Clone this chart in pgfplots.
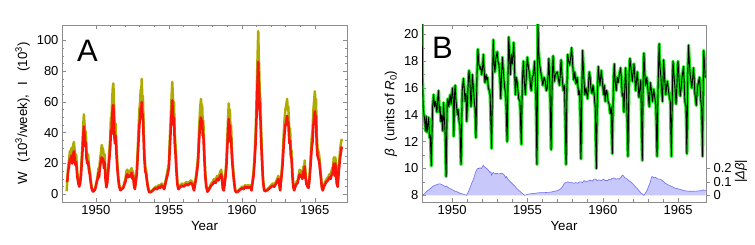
\documentclass[border=0pt]{standalone}
\usepackage{fontspec}
\setmainfont{Liberation Sans}
\usepackage{pgfplots}
\pgfplotsset{compat=1.18}
\usepackage{pgfplotstable}
\definecolor{olivew}{RGB}{175,170,0}
\definecolor{redi}{RGB}{250,20,10}
\definecolor{greenb}{RGB}{20,230,20}
\definecolor{purfill}{RGB}{200,200,250}
\definecolor{purline}{RGB}{110,110,240}
\definecolor{framec}{RGB}{140,140,140}

\pgfplotstableread{
t W I
1948.00 2 8
1948.05 10 9
1948.10 18 15
1948.16 22 18
1948.22 28 23
1948.27 26 21
1948.32 30 25
1948.38 25 20
1948.44 32 26
1948.50 34 28
1948.55 28 23
1948.60 23 19
1948.65 26 21
1948.72 15 12
1948.80 8 7
1948.86 6 5
1948.92 9 7
1948.98 15 12
1949.03 24 20
1949.08 33 27
1949.13 44 37
1949.18 52 44
1949.22 46 39
1949.27 38 31
1949.31 41 34
1949.36 28 23
1949.42 24 20
1949.47 26 21
1949.52 19 16
1949.58 16 13
1949.65 9 7.5
1949.72 4 3.5
1949.80 2 1.8
1949.88 2.5 2.2
1949.96 4 3.5
1950.04 8 7
1950.12 12 10
1950.18 17 14
1950.22 14 11
1950.27 21 17
1950.32 25 20
1950.36 28 22
1950.40 32 24
1950.45 30 23
1950.50 29 23
1950.55 22 17
1950.60 26 21
1950.66 12 10
1950.72 5 4.5
1950.78 9 7.5
1950.85 18 15
1950.92 28 23
1950.98 36 30
1951.03 50 41
1951.07 48 39
1951.11 60 49
1951.15 68 56
1951.19 72 58
1951.23 65 53
1951.27 45 37
1951.31 40 33
1951.35 46 38
1951.40 34 28
1951.46 22 18
1951.53 12 10
1951.60 6 5
1951.68 3 2.6
1951.78 4 3.4
1951.88 5 4.2
1951.96 8 6.6
1952.03 10 8.2
1952.09 15 12
1952.15 16 13
1952.21 13 11
1952.27 15 12
1952.33 14 11.5
1952.39 16 13
1952.45 17 14
1952.50 12 10
1952.55 15 12
1952.62 6 5
1952.67 4 3.4
1952.73 9 7.5
1952.80 16 13
1952.87 30 25
1952.93 44 36
1952.99 56 46
1953.03 60 49
1953.07 68 56
1953.11 66 54
1953.14 75 60
1953.18 62 51
1953.22 64 52
1953.26 48 39
1953.31 30 25
1953.38 18 15
1953.44 16 13
1953.50 10 8.2
1953.57 5 4.2
1953.64 2 1.7
1953.72 1.5 1.2
1953.80 2 1.7
1953.90 3 2.5
1954.00 4 3.3
1954.10 5 4.1
1954.20 4 3.3
1954.30 6 4.9
1954.40 5 4.1
1954.50 7 5.7
1954.60 6 4.9
1954.68 4 3.3
1954.76 8 6.6
1954.84 12 10
1954.92 16 13
1955.00 20 17
1955.06 35 29
1955.12 48 40
1955.18 62 52
1955.23 73 61
1955.27 65 54
1955.31 55 45
1955.35 60 50
1955.40 40 33
1955.45 33 27
1955.51 20 16
1955.58 8 6.6
1955.65 4 3.3
1955.72 5 4.1
1955.80 6 4.9
1955.90 7 5.7
1956.00 6 4.9
1956.10 7 5.7
1956.20 8 6.6
1956.30 7 5.7
1956.40 8 6.6
1956.50 9 7.4
1956.60 8 6.6
1956.67 5 4.1
1956.72 3 2.5
1956.78 7 5.7
1956.86 12 10
1956.93 18 15
1957.00 25 21
1957.06 40 33
1957.12 52 43
1957.16 58 48
1957.20 62 50
1957.24 56 46
1957.28 58 48
1957.32 46 38
1957.36 48 39
1957.42 30 25
1957.49 15 12
1957.56 6 4.9
1957.64 2 1.7
1957.72 3 2.5
1957.80 5 4.1
1957.90 7 5.7
1958.00 8 6.6
1958.10 10 8.2
1958.20 9 7.4
1958.30 12 10
1958.40 11 9
1958.50 14 11.5
1958.58 16 13
1958.64 12 10
1958.70 4 3.3
1958.76 3 2.5
1958.82 8 6.6
1958.88 14 11.5
1958.94 22 18
1959.00 36 30
1959.05 48 40
1959.10 59 49
1959.14 52 43
1959.18 55 45
1959.22 42 34
1959.26 45 37
1959.31 30 25
1959.38 20 16
1959.46 10 8.2
1959.54 3 2.5
1959.62 1.5 1.2
1959.72 2 1.7
1959.82 3 2.5
1959.92 4 3.3
1960.02 5 4.1
1960.12 4 3.3
1960.22 6 4.9
1960.32 5 4.1
1960.42 6 4.9
1960.52 5 4.1
1960.60 6 4.9
1960.66 3 2.5
1960.72 8 6.6
1960.80 15 12
1960.87 25 21
1960.94 40 33
1961.00 60 49
1961.05 80 66
1961.09 95 78
1961.12 106 86
1961.15 92 75
1961.19 80 66
1961.23 63 52
1961.27 62 50
1961.31 45 37
1961.37 28 23
1961.45 10 8.2
1961.53 3 2.5
1961.62 2.5 2
1961.72 3 2.5
1961.82 4 3.3
1961.92 5 4.1
1962.02 6 4.9
1962.12 7 5.7
1962.22 6 4.9
1962.32 8 6.6
1962.42 10 8.2
1962.50 12 10
1962.56 8 6.6
1962.62 3 2.5
1962.70 12 10
1962.78 22 18
1962.86 38 31
1962.92 48 39
1962.98 55 45
1963.04 58 47
1963.10 62 51
1963.14 55 45
1963.18 57 47
1963.22 47 39
1963.26 40 33
1963.30 43 35
1963.35 30 25
1963.40 28 23
1963.46 15 12
1963.52 6 4.9
1963.58 3 2.5
1963.66 6 4.9
1963.74 8 6.6
1963.82 9 7.4
1963.90 13 11
1963.96 16 13
1964.02 14 11.5
1964.08 15 12
1964.14 12 10
1964.20 18 15
1964.25 13 11
1964.30 22 18
1964.35 15 12
1964.42 8 6.6
1964.50 6 4.9
1964.56 5 4.1
1964.62 10 8.2
1964.70 22 18
1964.78 36 30
1964.84 42 34
1964.90 55 45
1964.96 62 51
1965.00 67 54
1965.04 58 48
1965.08 62 51
1965.12 40 33
1965.18 30 25
1965.24 28 23
1965.30 25 21
1965.36 18 15
1965.42 12 10
1965.48 5 4.1
1965.54 3 2.5
1965.62 6 4.9
1965.70 8 6.6
1965.80 10 8.2
1965.90 11 9
1966.00 13 11
1966.08 12 10
1966.16 16 13
1966.24 18 15
1966.30 24 20
1966.36 15 12
1966.40 24 20
1966.44 20 16
1966.50 8 6.6
1966.56 6 4.9
1966.64 18 15
1966.72 28 23
1966.78 33 27
1966.84 36 31
}\tabA

\pgfplotstableread{
t b
1948.00 23
1948.03 17
1948.08 14.5
1948.13 14.0
1948.18 13.6
1948.23 12.8
1948.28 13.9
1948.33 12.7
1948.38 13.2
1948.44 13.8
1948.50 12.3
1948.55 12.5
1948.62 10.2
1948.70 14.5
1948.77 15.5
1948.83 14.6
1948.90 15.0
1948.99 14.2
1949.04 15.2
1949.10 15.8
1949.15 14.2
1949.20 14.6
1949.25 13.5
1949.31 14.0
1949.38 12.8
1949.43 14.9
1949.49 13.6
1949.54 12.5
1949.60 9.4
1949.67 14.8
1949.72 15.2
1949.78 14.6
1949.87 15.5
1949.93 14.8
1950.02 16.0
1950.07 15.2
1950.11 12.4
1950.16 15.5
1950.20 16.2
1950.26 15.0
1950.35 14.0
1950.40 14.4
1950.46 13.5
1950.52 13.2
1950.59 10.3
1950.67 15.8
1950.75 16.7
1950.80 16.0
1950.86 15.0
1950.92 15.6
1950.97 13.5
1951.05 16.0
1951.12 17.3
1951.18 16.5
1951.25 14.6
1951.30 15.5
1951.34 17.0
1951.40 16.2
1951.47 15.0
1951.52 14.5
1951.58 12.3
1951.65 17.0
1951.71 18.9
1951.77 17.8
1951.85 17.4
1951.90 17.6
1951.96 17.0
1952.02 17.5
1952.07 18.5
1952.13 17.2
1952.18 16.4
1952.25 17.0
1952.30 16.6
1952.35 16.8
1952.40 16.0
1952.44 15.9
1952.52 15.5
1952.62 11.5
1952.68 16.5
1952.73 19.6
1952.78 18.0
1952.84 17.2
1952.90 18.2
1952.99 18.7
1953.04 18.0
1953.10 17.8
1953.16 17.0
1953.23 15.2
1953.28 17.0
1953.34 18.3
1953.40 17.2
1953.49 16.0
1953.56 15.5
1953.65 12.0
1953.71 17.0
1953.76 19.8
1953.82 18.2
1953.87 17.0
1953.93 18.5
1953.99 17.8
1954.04 18.5
1954.09 19.4
1954.14 17.5
1954.20 15.5
1954.26 16.8
1954.31 16.5
1954.37 15.8
1954.42 15.2
1954.50 15.0
1954.59 11.8
1954.66 16.5
1954.73 18.0
1954.79 16.5
1954.86 15.5
1954.92 16.8
1954.99 18.3
1955.06 17.6
1955.14 17.0
1955.20 16.2
1955.25 15.8
1955.32 16.8
1955.40 17.0
1955.47 18.0
1955.55 16.0
1955.63 10.3
1955.69 21.0
1955.74 18.8
1955.80 17.8
1955.86 17.4
1955.91 17.0
1955.97 16.6
1956.02 16.2
1956.10 16.8
1956.18 16.5
1956.25 15.8
1956.31 16.0
1956.37 17.0
1956.42 18.2
1956.49 16.0
1956.57 11.4
1956.64 16.5
1956.70 18.4
1956.75 17.2
1956.79 16.5
1956.86 17.0
1956.97 17.2
1957.04 16.8
1957.12 16.2
1957.18 17.0
1957.23 18.1
1957.30 16.8
1957.38 15.8
1957.46 16.2
1957.56 10.3
1957.62 16.0
1957.67 18.5
1957.73 18.0
1957.80 17.7
1957.86 18.2
1957.93 19.0
1958.00 17.8
1958.07 16.6
1958.14 17.2
1958.22 16.3
1958.30 16.8
1958.40 15.5
1958.47 15.8
1958.55 10.7
1958.61 16.0
1958.66 18.8
1958.72 17.2
1958.81 15.5
1958.88 16.0
1958.99 15.2
1959.05 16.2
1959.10 17.2
1959.16 16.8
1959.21 16.0
1959.28 15.6
1959.35 16.2
1959.43 15.5
1959.50 14.5
1959.57 10.0
1959.63 15.0
1959.70 17.6
1959.76 16.8
1959.81 16.2
1959.90 17.3
1959.97 16.5
1960.05 15.5
1960.11 16.2
1960.16 15.0
1960.22 15.8
1960.27 15.8
1960.35 15.0
1960.42 14.8
1960.49 14.1
1960.56 14.6
1960.63 11.1
1960.70 16.0
1960.76 17.8
1960.82 16.5
1960.89 15.8
1960.96 16.8
1961.02 16.4
1961.10 17.0
1961.18 17.5
1961.24 16.6
1961.29 15.4
1961.35 15.6
1961.40 14.2
1961.46 16.0
1961.51 17.5
1961.58 15.5
1961.67 10.9
1961.74 16.8
1961.80 18.2
1961.87 17.5
1961.96 16.5
1962.02 17.2
1962.07 17.8
1962.13 16.8
1962.18 15.8
1962.24 16.6
1962.29 17.2
1962.35 16.2
1962.40 15.3
1962.46 16.0
1962.52 16.6
1962.62 10.6
1962.68 16.5
1962.73 18.6
1962.79 17.0
1962.84 16.2
1962.92 16.8
1962.99 15.9
1963.08 14.6
1963.16 16.4
1963.23 15.8
1963.30 15.0
1963.38 15.9
1963.46 15.2
1963.52 14.8
1963.60 10.9
1963.67 16.2
1963.74 19.3
1963.80 17.5
1963.86 16.8
1963.92 15.6
1963.96 15.0
1964.04 18.1
1964.10 16.8
1964.18 15.5
1964.24 16.2
1964.29 16.5
1964.36 15.8
1964.42 15.3
1964.48 15.0
1964.55 10.9
1964.62 16.0
1964.66 18.0
1964.72 17.0
1964.77 16.3
1964.82 15.5
1964.86 14.8
1964.93 16.5
1964.99 18.0
1965.07 16.5
1965.14 15.4
1965.20 16.0
1965.25 16.7
1965.31 17.2
1965.36 17.6
1965.41 16.2
1965.45 15.0
1965.52 14.6
1965.58 11.1
1965.64 17.0
1965.69 19.2
1965.75 17.8
1965.80 17.0
1965.86 16.5
1965.91 16.0
1965.97 16.8
1966.02 17.5
1966.07 16.6
1966.11 15.6
1966.16 15.2
1966.20 14.7
1966.25 15.5
1966.29 16.1
1966.36 16.5
1966.42 16.8
1966.47 15.8
1966.51 15.0
1966.56 14.5
1966.62 10.9
1966.67 16.5
1966.70 18.8
1966.75 17.8
1966.79 16.8
1966.83 16.9
}\tabB

\pgfplotstableread{
t d
1948.00 0.0
1948.10 0.005
1948.20 0.015
1948.32 0.03
1948.44 0.04
1948.55 0.05
1948.66 0.06
1948.77 0.07
1948.88 0.075
1948.99 0.08
1949.10 0.085
1949.21 0.085
1949.30 0.08
1949.40 0.075
1949.54 0.065
1949.62 0.07
1949.70 0.06
1949.87 0.05
1950.03 0.04
1950.20 0.03
1950.36 0.025
1950.53 0.015
1950.70 0.01
1950.86 0.003
1950.95 0.0
1951.05 0.02
1951.20 0.06
1951.30 0.09
1951.45 0.13
1951.55 0.17
1951.63 0.19
1951.70 0.20
1951.78 0.20
1951.85 0.205
1951.93 0.20
1952.00 0.21
1952.07 0.225
1952.12 0.215
1952.18 0.21
1952.24 0.205
1952.29 0.20
1952.35 0.195
1952.42 0.185
1952.51 0.17
1952.57 0.175
1952.62 0.15
1952.68 0.165
1952.73 0.17
1952.80 0.165
1952.90 0.16
1953.00 0.165
1953.05 0.16
1953.15 0.16
1953.25 0.165
1953.38 0.16
1953.47 0.15
1953.54 0.13
1953.60 0.14
1953.70 0.12
1953.82 0.105
1953.92 0.095
1954.05 0.08
1954.15 0.07
1954.26 0.055
1954.40 0.04
1954.59 0.02
1954.72 0.008
1954.81 0.0
1954.95 0.005
1955.10 0.01
1955.30 0.012
1955.50 0.015
1955.70 0.018
1955.91 0.02
1956.10 0.02
1956.40 0.022
1956.60 0.025
1956.79 0.03
1957.00 0.035
1957.23 0.05
1957.35 0.07
1957.45 0.09
1957.55 0.095
1957.67 0.10
1957.80 0.095
1957.95 0.095
1958.10 0.09
1958.20 0.095
1958.33 0.09
1958.45 0.10
1958.55 0.10
1958.65 0.095
1958.75 0.11
1958.85 0.10
1959.00 0.105
1959.10 0.11
1959.21 0.11
1959.30 0.105
1959.42 0.12
1959.54 0.12
1959.62 0.11
1959.75 0.115
1959.90 0.11
1960.05 0.12
1960.15 0.11
1960.31 0.11
1960.42 0.12
1960.52 0.115
1960.60 0.125
1960.75 0.13
1960.88 0.12
1961.00 0.125
1961.08 0.12
1961.18 0.13
1961.30 0.15
1961.38 0.145
1961.45 0.13
1961.52 0.13
1961.62 0.12
1961.72 0.11
1961.85 0.10
1962.00 0.085
1962.15 0.065
1962.29 0.05
1962.40 0.035
1962.51 0.02
1962.62 0.01
1962.73 0.0
1962.85 0.02
1962.95 0.04
1963.05 0.07
1963.16 0.10
1963.22 0.13
1963.27 0.14
1963.35 0.135
1963.42 0.13
1963.49 0.135
1963.60 0.125
1963.70 0.12
1963.82 0.12
1963.95 0.11
1964.05 0.10
1964.15 0.09
1964.30 0.08
1964.48 0.07
1964.60 0.065
1964.75 0.055
1964.92 0.05
1965.10 0.045
1965.25 0.04
1965.36 0.035
1965.55 0.032
1965.75 0.03
1966.02 0.03
1966.30 0.032
1966.57 0.035
1966.68 0.04
1966.75 0.038
1966.83 0.035
}\tabD

\pgfplotsset{
 mystyle/.style={
  scale only axis, height=177pt,
  clip mode=individual,
  axis line style={framec, line width=0.6pt},
  tick style={framec, line width=0.5pt},
  major tick length=4pt, minor tick length=2.5pt,
  tick align=inside,
  ticklabel style={font=\fontsize{13}{15}\selectfont, black},
  /pgf/number format/assume math mode=true,
  /pgf/number format/1000 sep={},
  label style={font=\fontsize{13.3}{15}\selectfont},
  xlabel={Year},
  xtick={1950,1955,1960,1965},
  minor x tick num=4,
 }
}

\begin{document}
\begin{tikzpicture}
\useasboundingbox (0pt,0pt) rectangle (755pt,245pt);
% Panel A
\begin{axis}[mystyle, at={(62pt,43pt)}, anchor=south west, width=285pt,
  xmin=1947.68, xmax=1967.2, ymin=-5, ymax=110,
  ytick={0,20,40,60,80,100}, minor y tick num=3,
  ylabel={W\ \ \,(10\textsuperscript{3}/week),\ \ \,I\ \ \,(10\textsuperscript{3})}]
\addplot[olivew, line width=2.5pt, line join=round] table[x=t,y=W] {\tabA};
\addplot[redi, line width=2.5pt, line join=round] table[x=t,y=I] {\tabA};
\node[anchor=north west, inner sep=0pt, font=\fontsize{31}{31}\selectfont] at (rel axis cs:0,1) [xshift=15pt, yshift=-15pt] {A};
\end{axis}
% Panel B: delta beta (right axis)
\begin{axis}[scale only axis, at={(422pt,43pt)}, anchor=south west, width=284pt, height=177pt,
  clip mode=individual,
  xmin=1948, xmax=1966.85, ymin=-0.05, ymax=1.27,
  axis y line*=right, axis x line=none,
  axis line style={framec, line width=0.6pt},
  tick style={framec, line width=0.5pt}, major tick length=4pt,
  tick align=outside,
  ytick={0,0.1,0.2}, yticklabels={0,0.1,0.2},
  ticklabel style={font=\fontsize{13}{15}\selectfont, black},
  /pgf/number format/assume math mode=true]
\addplot[fill=purfill, draw=none] table[x=t,y=d] {\tabD} \closedcycle;
\addplot[purline, line width=0.6pt] table[x=t,y=d] {\tabD};
\end{axis}
% Panel B: beta
\begin{axis}[mystyle, at={(422pt,43pt)}, anchor=south west, width=284pt,
  xmin=1948, xmax=1966.85, ymin=7.5, ymax=20.7,
  ytick={8,10,12,14,16,18,20}, minor y tick num=1, ytick pos=left,
  ylabel={\textit{β}\ \ (units of \textit{R}\textsubscript{0})}]
\addplot[greenb, line width=3.2pt, line join=round] table[x=t,y=b] {\tabB};
\addplot[black, line width=0.9pt, line join=round] table[x=t,y=b] {\tabB};
\node[anchor=north west, inner sep=0pt, font=\fontsize{31}{31}\selectfont] at (rel axis cs:0,1) [xshift=10pt, yshift=-12pt] {B};
\node[xshift=35pt, rotate=90, font=\fontsize{13}{15}\selectfont] at (axis cs:1966.85,9.8) {|\textit{Δβ}|};
\end{axis}
\end{tikzpicture}
\end{document}
